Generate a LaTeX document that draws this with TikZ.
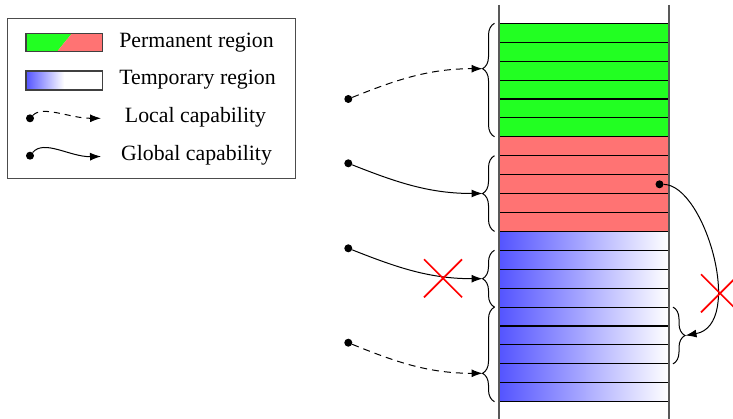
\documentclass[tikz,border=0pt]{standalone}
\usepackage{fontspec}
\setmainfont{Liberation Serif}
\usetikzlibrary{decorations.pathreplacing,arrows.meta}
\definecolor{permgreen}{RGB}{34,255,34}
\definecolor{permred}{RGB}{255,115,115}
\definecolor{tempblue}{RGB}{84,84,255}
\tikzset{
  rowline/.style={draw=black, line width=1.1pt},
  colline/.style={draw=black!65, line width=1.2pt},
  capline/.style={-{Latex[length=11pt,width=8pt]}, line width=1pt},
  localcap/.style={capline, dash pattern=on 7pt off 5pt},
  capdot/.style={circle, fill=black, inner sep=0pt, minimum size=8pt},
  redcross/.style={draw=red, line width=1.7pt},
  bracedeco/.style={decorate, decoration={brace, amplitude=12pt, aspect=#1}, line width=1pt},
  bracedeco/.default=0.5,
  legtext/.style={anchor=base, font=\fontsize{21.8}{25}\selectfont, inner sep=0pt},
  swatch/.style={draw=black!75, line width=1.3pt},
}
\begin{document}
\begin{tikzpicture}[x=1pt,y=-1pt]
\useasboundingbox (0,0) rectangle (733,419);
% ---------- legend ----------
\draw[draw=black!70, line width=1pt] (7.3,19) rectangle (295,178.3);
\fill[permgreen] (26,33.3) -- (72,33.3) -- (57,51.7) -- (26,51.7) -- cycle;
\fill[permred] (72,33.3) -- (102.3,33.3) -- (102.3,51.7) -- (57,51.7) -- cycle;
\draw[swatch] (26,33.3) rectangle (102.3,51.7);
\shade[left color=tempblue, right color=white] (26,71) rectangle (64,90);
\draw[swatch] (26,71) rectangle (102.3,90);
\node[legtext] (lperm) at (196.5,47.3) {Permanent region};
\node[legtext] (ltemp) at (197.5,84.8) {Temporary region};
\node[legtext] (lloc) at (195.5,123) {Local capability};
\node[legtext] (lglob) at (196.5,160.7) {Global capability};
\node[capdot] (ld1) at (30,118.3) {};
\coordinate (le1) at (101,118.3);
\draw[localcap, dash pattern=on 6pt off 5pt] (ld1) .. controls (43,105) and (70,118.3) .. (le1);
\node[capdot] (ld2) at (30,155.7) {};
\coordinate (le2) at (101,156.5);
\draw[capline] (ld2) .. controls (44,139) and (70,157) .. (le2);
% ---------- memory column ----------
\fill[permgreen] (499,23.3) rectangle (669,136.8);
\fill[permred] (499,136.8) rectangle (669,231.4);
\shade[left color=tempblue, right color=white] (499,231.4) rectangle (669,401.7);
\foreach \i in {0,...,20}
  \draw[rowline] (499,23.3+18.92*\i) -- (669,23.3+18.92*\i);
\draw[colline] (499,5) -- (499,419);
\draw[colline] (669,5) -- (669,419);
% ---------- braces ----------
\draw[bracedeco=0.6] (494.5,136.8) -- (494.5,23.3);
\draw[bracedeco] (494.5,231.4) -- (494.5,155.7);
\draw[bracedeco] (494.5,307.1) -- (494.5,250.3);
\draw[bracedeco=0.3] (494.5,401.7) -- (494.5,307.1);
\draw[bracedeco] (673,307.1) -- (673,363.9);
\coordinate (t1) at (482.5,68.7);
\coordinate (t2) at (482.5,193.5);
\coordinate (t3) at (482.5,278.7);
\coordinate (t4) at (482.5,373.3);
\coordinate (t5) at (685.5,335.5);
% ---------- capabilities ----------
\node[capdot] (d1) at (348.3,99) {};
\node[capdot] (d2) at (348.3,163.3) {};
\node[capdot] (d3) at (348.3,248.3) {};
\node[capdot] (d4) at (348.3,342.7) {};
\node[capdot] (d5) at (659.5,184.3) {};
\draw[localcap] (d1) .. controls (398,79) and (430,68.7) .. (t1);
\draw[capline] (d2) .. controls (398,183) and (430,193.5) .. (t2);
\draw[capline] (d3) .. controls (398,268) and (430,278.7) .. (t3);
\draw[localcap] (d4) .. controls (398,363) and (430,373.3) .. (t4);
\draw[capline] (d5) .. controls (705,185) and (745,325) .. (t5);
% ---------- invalid marks ----------
\draw[redcross] (424,259.3) -- (462,297.3) (424,297.3) -- (462,259.3);
\draw[redcross] (701,274.3) -- (739,312.3) (701,312.3) -- (739,274.3);
\end{tikzpicture}
\end{document}
